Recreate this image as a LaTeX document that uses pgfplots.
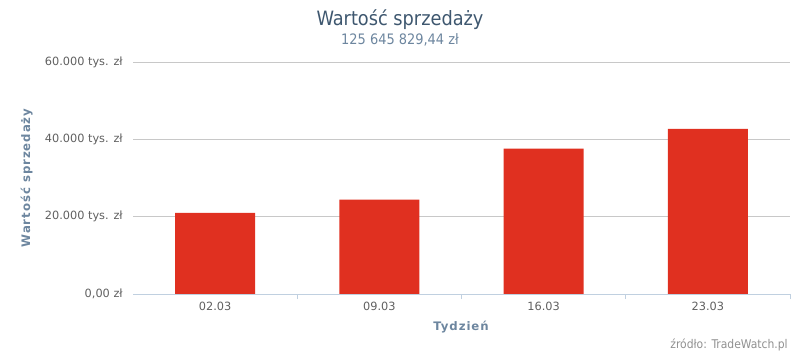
\documentclass[border=0pt]{standalone}
\usepackage{fontspec}
\usepackage{pgfplots}
\pgfplotsset{compat=1.18}
\setmainfont{DejaVu Sans}
\newfontfamily\titlefont{DejaVu Sans Condensed}
\newfontfamily\axtitlefont[LetterSpace=8]{DejaVu Sans}
\definecolor{barred}{HTML}{E03020}
\definecolor{titlecol}{HTML}{3E576F}
\definecolor{subcol}{HTML}{6D869F}
\definecolor{tickcol}{HTML}{606060}
\definecolor{gridcol}{HTML}{C8C8C8}
\definecolor{axcol}{HTML}{C0D0E0}
\definecolor{srccol}{HTML}{909090}
\begin{document}
\begin{tikzpicture}
\useasboundingbox (0,0) rectangle (600pt,-267pt);
\begin{axis}[
  at={(99.75pt,-220.5pt)}, anchor=south west,
  scale only axis, width=492.75pt, height=174pt,
  xmin=-0.5, xmax=3.5, ymin=0, ymax=60000,
  axis line style={draw=none},
  scaled y ticks=false,
  ybar, bar width=60pt,
  ymajorgrids, grid style={gridcol, line width=0.75pt},
  ytick={0,20000,40000,60000},
  yticklabels={0{,}00 zł,20.000 tys. zł,40.000 tys. zł,60.000 tys. zł},
  xtick={0,1,2,3},
  xticklabels={02.03,09.03,16.03,23.03},
  minor xtick={0.5,1.5,2.5,3.5},
  major tick length=0pt, minor tick length=3.75pt,
  tick align=outside, xtick pos=lower, ytick pos=left,
  minor tick style={axcol, line width=0.75pt},
  tick label style={font=\fontsize{8.5pt}{10pt}\selectfont, text=tickcol, inner sep=0pt},
  yticklabel style={anchor=east, xshift=-7.5pt},
  xticklabel style={anchor=north, yshift=-5.5pt},
  clip=false,
]
\addplot[fill=barred, draw=none] coordinates {(0,20950) (1,24400) (2,37600) (3,42700)};
\draw[axcol, line width=0.75pt] (axis cs:-0.5,0) -- (axis cs:3.5,0);
\end{axis}
\node[titlecol, font=\titlefont\fontsize{14.8pt}{17pt}\selectfont] at (300pt,-15pt) {Wartość sprzedaży};
\node[subcol, font=\titlefont\fontsize{10.8pt}{13pt}\selectfont] at (300pt,-30pt) {125 645 829,44 zł};
\node[subcol, font=\axtitlefont\bfseries\fontsize{8.8pt}{11pt}\selectfont] at (345.75pt,-245pt) {Tydzień};
\node[subcol, rotate=90, font=\axtitlefont\bfseries\fontsize{8.8pt}{11pt}\selectfont] at (20pt,-133.5pt) {Wartość sprzedaży};
\node[srccol, anchor=east, inner sep=0pt, font=\titlefont\fontsize{9pt}{10pt}\selectfont] at (591pt,-258.75pt) {źródło: TradeWatch.pl};
\end{tikzpicture}
\end{document}
